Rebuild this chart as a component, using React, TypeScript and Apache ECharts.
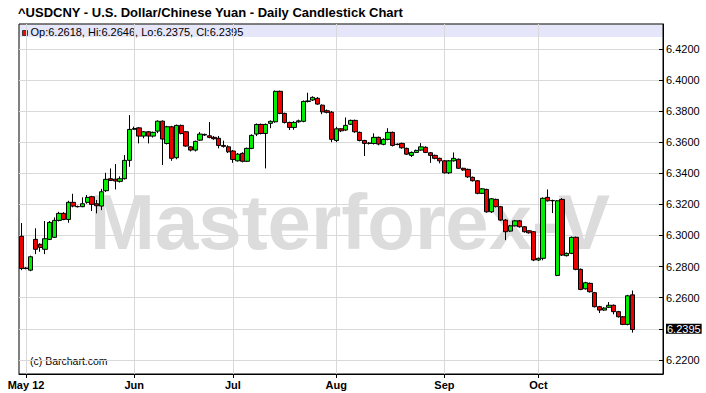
import React, { useEffect, useRef } from 'react';
import * as echarts from 'echarts';

const FONT = '"Liberation Sans", Arial, Helvetica, sans-serif';

const titleText = '^USDCNY - U.S. Dollar/Chinese Yuan - Daily Candlestick Chart';
const watermarkText = 'Masterforex-V';
const copyrightText = '(c) Barchart.com';

const startDate = '2012-04-30';
const slotCount = 137;
const monthTickIndex = [1, 24, 45, 67, 90, 110];
const monthTickLabel = ['May 12', 'Jun', 'Jul', 'Aug', 'Sep', 'Oct'];
const priceTicks = [6.22, 6.24, 6.26, 6.28, 6.3, 6.32, 6.34, 6.36, 6.38, 6.4, 6.42];
const priceLabelTicks = [6.22, 6.26, 6.28, 6.3, 6.32, 6.34, 6.36, 6.38, 6.4, 6.42];

const open = [
  6.2995, 6.2790, 6.2777, 6.2975, 6.2943, 6.2911, 6.2975, 6.2988, 6.3097, 6.3142,
  6.3103, 6.3213, 6.3185, 6.3185, 6.3213, 6.3249, 6.3204, 6.3189, 6.3288, 6.3365,
  6.3362, 6.3348, 6.3365, 6.3483, 6.3683, 6.3692, 6.3639, 6.3667, 6.3639, 6.3671,
  6.3735, 6.3592, 6.3699, 6.3500, 6.3708, 6.3667, 6.3570, 6.3549, 6.3613, 6.3646,
  6.3641, 6.3631, 6.3625, 6.3579, 6.3570, 6.3543, 6.3480, 6.3528, 6.3477, 6.3560,
  6.3652, 6.3714, 6.3656, 6.3721, 6.3731, 6.3927, 6.3785, 6.3727, 6.3695, 6.3731,
  6.3734, 6.3862, 6.3871, 6.3882, 6.3838, 6.3802, 6.3793, 6.3611, 6.3686, 6.3678,
  6.3715, 6.3740, 6.3663, 6.3611, 6.3592, 6.3592, 6.3631, 6.3586, 6.3618, 6.3663,
  6.3585, 6.3592, 6.3560, 6.3515, 6.3534, 6.3549, 6.3567, 6.3532, 6.3515, 6.3496,
  6.3480, 6.3403, 6.3480, 6.3490, 6.3432, 6.3425, 6.3374, 6.3352, 6.3271, 6.3296,
  6.3152, 6.3232, 6.3185, 6.3099, 6.3028, 6.3062, 6.3094, 6.3056, 6.3030, 6.3024,
  6.2842, 6.2853, 6.3245, 6.3223, 6.2743, 6.3232, 6.2870, 6.2885, 6.2988, 6.2782,
  6.2657, 6.2692, 6.2632, 6.2542, 6.2520, 6.2538, 6.2551, 6.2510, 6.2477, 6.2428,
  6.2618,
];
const close = [
  6.2788, 6.2788, 6.2863, 6.2911, 6.2923, 6.2979, 6.3084, 6.3097, 6.3142, 6.3103,
  6.3213, 6.3189, 6.3186, 6.3204, 6.3245, 6.3200, 6.3191, 6.3281, 6.3361, 6.3354,
  6.3350, 6.3365, 6.3483, 6.3682, 6.3688, 6.3639, 6.3667, 6.3639, 6.3663, 6.3735,
  6.3620, 6.3699, 6.3496, 6.3708, 6.3656, 6.3575, 6.3549, 6.3605, 6.3652, 6.3650,
  6.3631, 6.3622, 6.3579, 6.3573, 6.3538, 6.3489, 6.3523, 6.3477, 6.3560, 6.3644,
  6.3714, 6.3656, 6.3714, 6.3734, 6.3927, 6.3785, 6.3727, 6.3695, 6.3727, 6.3737,
  6.3862, 6.3865, 6.3888, 6.3845, 6.3795, 6.3792, 6.3618, 6.3686, 6.3673, 6.3708,
  6.3740, 6.3667, 6.3611, 6.3592, 6.3594, 6.3631, 6.3588, 6.3618, 6.3663, 6.3579,
  6.3587, 6.3564, 6.3523, 6.3534, 6.3547, 6.3570, 6.3534, 6.3515, 6.3496, 6.3480,
  6.3403, 6.3480, 6.3496, 6.3432, 6.3421, 6.3377, 6.3352, 6.3271, 6.3300, 6.3152,
  6.3236, 6.3185, 6.3099, 6.3024, 6.3062, 6.3094, 6.3056, 6.3024, 6.3017, 6.2842,
  6.2853, 6.3239, 6.3223, 6.3225, 6.3223, 6.2874, 6.2885, 6.2988, 6.2782, 6.2653,
  6.2696, 6.2638, 6.2542, 6.2520, 6.2533, 6.2551, 6.2510, 6.2477, 6.2428, 6.2612,
  6.2395,
];
const low = [
  6.2777, 6.2782, 6.2770, 6.2880, 6.2895, 6.2880, 6.2970, 6.2985, 6.3090, 6.3098,
  6.3082, 6.3181, 6.3180, 6.3182, 6.3204, 6.3157, 6.3142, 6.3163, 6.3280, 6.3350,
  6.3296, 6.3340, 6.3360, 6.3442, 6.3678, 6.3592, 6.3625, 6.3592, 6.3630, 6.3658,
  6.3453, 6.3585, 6.3480, 6.3490, 6.3650, 6.3570, 6.3540, 6.3540, 6.3608, 6.3640,
  6.3625, 6.3615, 6.3560, 6.3565, 6.3530, 6.3467, 6.3475, 6.3470, 6.3472, 6.3555,
  6.3639, 6.3650, 6.3431, 6.3690, 6.3725, 6.3780, 6.3720, 6.3678, 6.3680, 6.3725,
  6.3728, 6.3855, 6.3865, 6.3840, 6.3780, 6.3785, 6.3600, 6.3600, 6.3665, 6.3672,
  6.3710, 6.3660, 6.3605, 6.3511, 6.3585, 6.3585, 6.3580, 6.3580, 6.3612, 6.3572,
  6.3580, 6.3558, 6.3518, 6.3505, 6.3530, 6.3545, 6.3530, 6.3467, 6.3490, 6.3464,
  6.3398, 6.3395, 6.3475, 6.3428, 6.3416, 6.3370, 6.3347, 6.3265, 6.3266, 6.3146,
  6.3145, 6.3180, 6.3094, 6.2970, 6.3022, 6.3058, 6.3050, 6.3018, 6.3012, 6.2835,
  6.2836, 6.2840, 6.3218, 6.3144, 6.2738, 6.2868, 6.2865, 6.2880, 6.2776, 6.2648,
  6.2652, 6.2633, 6.2537, 6.2501, 6.2515, 6.2533, 6.2493, 6.2472, 6.2423, 6.2422,
  6.2375,
];
const high = [
  6.3080, 6.2796, 6.2870, 6.3046, 6.2950, 6.3093, 6.3093, 6.3116, 6.3152, 6.3150,
  6.3223, 6.3268, 6.3192, 6.3245, 6.3260, 6.3255, 6.3228, 6.3300, 6.3403, 6.3431,
  6.3459, 6.3380, 6.3517, 6.3774, 6.3700, 6.3697, 6.3672, 6.3672, 6.3668, 6.3740,
  6.3740, 6.3705, 6.3705, 6.3713, 6.3713, 6.3672, 6.3575, 6.3610, 6.3665, 6.3655,
  6.3730, 6.3640, 6.3640, 6.3610, 6.3580, 6.3550, 6.3530, 6.3535, 6.3565, 6.3650,
  6.3720, 6.3720, 6.3720, 6.3740, 6.3932, 6.3932, 6.3790, 6.3732, 6.3735, 6.3745,
  6.3868, 6.3918, 6.3895, 6.3890, 6.3843, 6.3810, 6.3800, 6.3699, 6.3690, 6.3759,
  6.3745, 6.3745, 6.3668, 6.3615, 6.3600, 6.3657, 6.3636, 6.3625, 6.3690, 6.3668,
  6.3592, 6.3597, 6.3565, 6.3540, 6.3552, 6.3594, 6.3573, 6.3537, 6.3520, 6.3500,
  6.3485, 6.3485, 6.3534, 6.3495, 6.3436, 6.3430, 6.3379, 6.3356, 6.3305, 6.3301,
  6.3241, 6.3237, 6.3190, 6.3105, 6.3068, 6.3100, 6.3100, 6.3060, 6.3034, 6.3028,
  6.2858, 6.3245, 6.3296, 6.3230, 6.3228, 6.3240, 6.2890, 6.2993, 6.2993, 6.2788,
  6.2702, 6.2697, 6.2637, 6.2547, 6.2538, 6.2572, 6.2556, 6.2515, 6.2482, 6.2618,
  6.2646,
];

function weekdayDates(start: string, n: number): string[] {
  const out: string[] = [];
  const d = new Date(start + 'T00:00:00Z');
  while (out.length < n) {
    const wd = d.getUTCDay();
    if (wd !== 0 && wd !== 6) out.push(d.toISOString().slice(0, 10));
    d.setUTCDate(d.getUTCDate() + 1);
  }
  return out;
}

export default function App() {
  const ref = useRef<HTMLDivElement>(null);

  useEffect(() => {
    if (!ref.current) return;
    const chart = echarts.init(ref.current, null, { renderer: 'svg' });
    const categories = weekdayDates(startDate, slotCount);
    const labelAt: Record<number, string> = {};
    monthTickIndex.forEach((idx, k) => (labelAt[idx] = monthTickLabel[k]));
    const isTick = (i: number) => labelAt[i] !== undefined;
    const candles = open.map((o, i) => [o, close[i], low[i], high[i]]);
    const n = open.length - 1;
    const f4 = (v: number) => v.toFixed(4);
    const legendText = `Op:${f4(open[n])}, Hi:${f4(high[n])}, Lo:${f4(low[n])}, Cl:${f4(close[n])}`;

    chart.setOption({
      animation: false,
      backgroundColor: '#ffffff',
      textStyle: { fontFamily: FONT },
      grid: {
        left: 19,
        right: 43,
        top: 24,
        bottom: 19,
        show: true,
        borderColor: '#000',
        borderWidth: 1,
        backgroundColor: 'transparent',
      },
      xAxis: {
        type: 'category',
        data: categories,
        boundaryGap: true,
        axisLine: { show: true, lineStyle: { color: '#000', width: 1 } },
        axisTick: {
          show: true,
          alignWithLabel: true,
          interval: (i: number) => isTick(i),
          length: 4,
          lineStyle: { color: '#000' },
        },
        axisLabel: {
          interval: (i: number) => isTick(i),
          formatter: (_v: string, i: number) => labelAt[i] ?? '',
          fontWeight: 'bold',
          fontSize: 11,
          color: '#000',
          margin: 5,
          fontFamily: FONT,
        },
        splitLine: {
          show: true,
          interval: (i: number) => isTick(i),
          alignWithLabel: true,
          lineStyle: { color: '#d9d9d9', width: 1 },
        },
      },
      yAxis: {
        type: 'value',
        position: 'right',
        min: 6.2109,
        max: 6.436,
        axisLine: { show: true, lineStyle: { color: '#000' } },
        axisTick: {
          show: true,
          inside: true,
          length: 4,
          customValues: priceTicks,
          lineStyle: { color: '#000' },
        },
        axisLabel: {
          customValues: priceLabelTicks,
          formatter: (v: number) => v.toFixed(4),
          fontSize: 11,
          color: '#000',
          margin: 3,
          fontFamily: FONT,
        },
        splitLine: { show: true, lineStyle: { color: '#d9d9d9', width: 1 } },
      },
      graphic: [
        {
          type: 'rect',
          z: -1,
          silent: true,
          shape: { x: 19.5, y: 24.5, width: 643, height: 12.5 },
          style: { fill: '#e6e6fa' },
        },
        {
          type: 'rect',
          silent: true,
          shape: { x: 22.5, y: 30.5, width: 5, height: 5 },
          style: { fill: '#ff0000', stroke: '#222', lineWidth: 0.8 },
        },
        {
          type: 'text',
          silent: true,
          x: 30.5,
          y: 31.5,
          style: {
            text: legendText,
            fontSize: 11,
            fontFamily: FONT,
            fill: '#000',
            align: 'left',
            textAlign: 'left',
            verticalAlign: 'middle',
            textVerticalAlign: 'middle',
          },
        },
        {
          type: 'text',
          silent: true,
          x: 18,
          y: 12.5,
          style: {
            text: titleText,
            fontSize: 13,
            fontWeight: 'bold',
            fontFamily: FONT,
            fill: '#000',
            align: 'left',
            textAlign: 'left',
            verticalAlign: 'middle',
            textVerticalAlign: 'middle',
          },
        },
        {
          type: 'text',
          silent: true,
          z: 1,
          x: 350,
          y: 222,
          style: {
            text: watermarkText,
            fontSize: 78,
            fontWeight: 'bold',
            fontFamily: FONT,
            fill: '#dcdcdc',
            align: 'center',
            textAlign: 'center',
            verticalAlign: 'middle',
            textVerticalAlign: 'middle',
          },
        },
        {
          type: 'text',
          silent: true,
          x: 30,
          y: 361,
          style: {
            text: copyrightText,
            fontSize: 10.5,
            fontFamily: FONT,
            fill: '#000',
            align: 'left',
            textAlign: 'left',
            verticalAlign: 'middle',
            textVerticalAlign: 'middle',
          },
        },
      ],
      series: [
        {
          type: 'candlestick',
          data: candles,
          barWidth: 4.8,
          z: 5,
          itemStyle: {
            color: '#00ee00',
            color0: '#ee0000',
            borderColor: '#000',
            borderColor0: '#000',
            borderWidth: 1,
          },
          markLine: {
            silent: true,
            symbol: ['none', 'none'],
            animation: false,
            z: 10,
            lineStyle: { color: 'rgba(0,0,0,0)', width: 0, type: 'solid' },
            label: {
              show: true,
              position: 'end',
              formatter: () => f4(close[n]),
              color: '#ffffff',
              backgroundColor: '#000000',
              fontSize: 11,
              fontFamily: FONT,
              lineHeight: 10,
              padding: [0, 1, 0, 1],
              distance: 3,
              opacity: 1,
            },
            emphasis: { disabled: true },
            data: [{ yAxis: close[n] }],
          },
        },
      ],
    });
    return () => chart.dispose();
  }, []);

  return (
    <div
      ref={ref}
      style={{ position: 'absolute', left: 0, top: 0, width: 706, height: 393, background: '#fff' }}
    />
  );
}
